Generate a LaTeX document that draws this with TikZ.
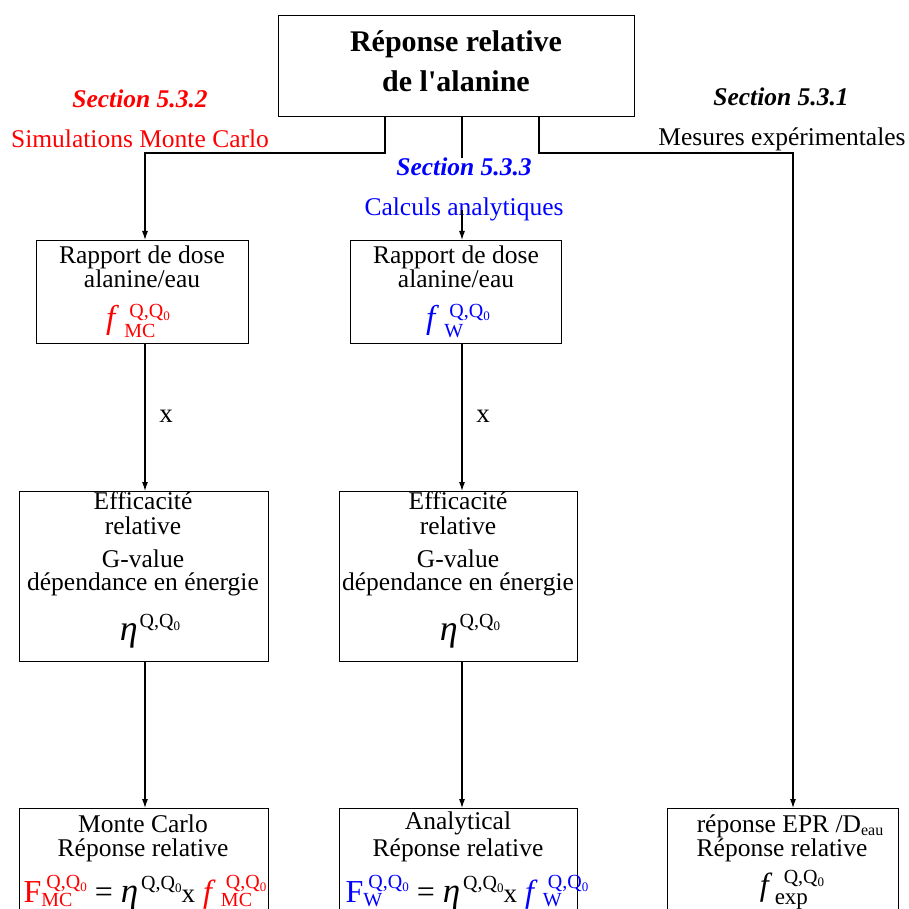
\documentclass[tikz,border=0pt]{standalone}
\usepackage{fontspec}
\setmainfont{Liberation Serif}
\usetikzlibrary{arrows.meta}
\definecolor{myred}{RGB}{255,0,0}
\definecolor{myblue}{RGB}{0,0,255}
\newcommand\Qz{Q,Q\raisebox{-3pt}{\fontsize{13}{13}\selectfont 0}}
% #1 raise, #2 lower, #3 sub kern, #4 sup kern, #5 sup, #6 sub
\newcommand\spsb[6]{%
\setbox0\hbox{\kern#4\raisebox{#1}{\upshape\fontsize{20}{20}\selectfont #5}}%
\setbox2\hbox{\kern#3\raisebox{-#2}{\upshape\fontsize{20}{20}\selectfont #6}}%
\ifdim\wd0>\wd2 \rlap{\box2}\box0\else\rlap{\box0}\box2\fi}
\begin{document}
\begin{tikzpicture}[x=1pt,y=-1pt,
  box/.style={draw, line width=1.4pt, anchor=north west, inner sep=0pt},
  base/.style={anchor=base, inner sep=0pt, font=\fontsize{25.5}{24}\selectfont},
  ttl/.style={anchor=base, inner sep=0pt, font=\bfseries\fontsize{30}{30}\selectfont},
  sec/.style={anchor=base, inner sep=0pt, font=\bfseries\itshape\fontsize{25.5}{25.5}\selectfont},
  conn/.style={line width=1.1pt},
  arr/.style={line width=1.1pt, -{Latex[length=9pt,width=6pt]}}]
\clip (0,0) rectangle (908,909);
% boxes
\node[box, minimum width=356pt, minimum height=101pt] (top) at (278,15) {};
\node[box, minimum width=212pt, minimum height=103pt] (l1) at (36,240) {};
\node[box, minimum width=211pt, minimum height=103pt] (m1) at (350,240) {};
\node[box, minimum width=249pt, minimum height=170pt] (l2) at (19,491) {};
\node[box, minimum width=238pt, minimum height=170pt] (m2) at (339,491) {};
\node[box, minimum width=249pt, minimum height=130pt] (l3) at (19,808) {};
\node[box, minimum width=238pt, minimum height=130pt] (m3) at (339,808) {};
\node[box, minimum width=231pt, minimum height=130pt] (r3) at (667,808) {};
% title
\node[ttl] (t1) at (456,52) {Réponse relative};
\node[ttl] (t2) at (456,92) {de l\textquotesingle alanine};
% section labels
\node[sec, text=myred] (s2) at (140,108) {Section 5.3.2};
\node[base, text=myred] (c2) at (140,148) {Simulations Monte Carlo};
\node[sec, text=myblue] (s3) at (464,176) {Section 5.3.3};
\node[base, text=myblue] (c3) at (464,216) {Calculs analytiques};
\node[sec] (s1) at (781,106) {Section 5.3.1};
\node[base] (c1) at (782,146) {Mesures expérimentales};
% connectors
\coordinate (xa) at (385,153);
\coordinate (xb) at (539,153);
\coordinate (xl) at (145,0);
\coordinate (xm) at (462,0);
\coordinate (xr) at (793,0);
\draw[arr] (top.south -| xa) -- (xa) -| (l1.north -| xl);
\draw[conn] (top.south -| xm) -- (s3.north -| xm);
\draw[arr] (c3.center -| xm) -- (m1.north -| xm);
\draw[arr] (top.south -| xb) -- (xb) -| (r3.north -| xr);
\draw[arr] (l1.south -| xl) -- (l2.north -| xl);
\draw[arr] (m1.south -| xm) -- (m2.north -| xm);
\draw[arr] (l2.south -| xl) -- (l3.north -| xl);
\draw[arr] (m2.south -| xm) -- (m3.north -| xm);
\node[base, font=\fontsize{27}{27}\selectfont] (xl1) at (166,422) {x};
\node[base, font=\fontsize{27}{27}\selectfont] (xm1) at (483,422) {x};
% box 1 contents
\node[base] (l1a) at (142,263) {Rapport de dose};
\node[base] (l1b) at (142,287) {alanine/eau};
\node[base] (l1f) at (138,328) {\fontsize{33}{33}\selectfont\color{myred}\itshape f\spsb{11pt}{9pt}{9pt}{14pt}{\Qz}{MC}};
\node[base] (m1a) at (456,263) {Rapport de dose};
\node[base] (m1b) at (456,287) {alanine/eau};
\node[base] (m1f) at (458,328) {\fontsize{33}{33}\selectfont\color{myblue}\itshape f\spsb{11pt}{9pt}{9pt}{14pt}{\Qz}{W}};
% box 2 contents
\node[base] (l2a) at (143,509) {Efficacité};
\node[base] (l2b) at (143,534) {relative};
\node[base] (l2c) at (143,567) {G-value};
\node[base] (l2d) at (143,590) {dépendance en énergie};
\node[base] (l2f) at (150,640) {\fontsize{36}{36}\selectfont\itshape η\spsb{13pt}{0pt}{0pt}{2pt}{\Qz}{}};
\node[base] (m2a) at (458,509) {Efficacité};
\node[base] (m2b) at (458,534) {relative};
\node[base] (m2c) at (458,567) {G-value};
\node[base] (m2d) at (458,590) {dépendance en énergie};
\node[base] (m2f) at (470,640) {\fontsize{36}{36}\selectfont\itshape η\spsb{13pt}{0pt}{0pt}{2pt}{\Qz}{}};
% box 3 contents
\node[base] (l3a) at (143,832) {Monte Carlo};
\node[base] (l3b) at (143,856) {Réponse relative};
\node[base] (l3f) at (145,902) {\fontsize{32}{32}\selectfont
 {\color{myred}F\spsb{14pt}{4pt}{0pt}{5pt}{\Qz}{MC}} = {\fontsize{35}{35}\selectfont\itshape η}\spsb{13pt}{0pt}{0pt}{3pt}{\Qz}{}{\fontsize{27}{27}\selectfont x} {\color{myred}\itshape f\spsb{14pt}{4pt}{9pt}{14pt}{\Qz}{MC}}};
\node[base] (m3a) at (458,829) {Analytical};
\node[base] (m3b) at (458,856) {Réponse relative};
\node[base] (m3f) at (467,902) {\fontsize{32}{32}\selectfont
 {\color{myblue}F\spsb{14pt}{4pt}{0pt}{5pt}{\Qz}{W}} = {\fontsize{35}{35}\selectfont\itshape η}\spsb{13pt}{0pt}{0pt}{3pt}{\Qz}{}{\fontsize{27}{27}\selectfont x} {\color{myblue}\itshape f\spsb{14pt}{4pt}{9pt}{14pt}{\Qz}{W}}};
\node[base] (r3a) at (790,832) {réponse EPR /D\raisebox{-3pt}{\fontsize{16}{16}\selectfont eau}};
\node[base] (r3b) at (782,856) {Réponse relative};
\node[base] (r3f) at (792,895) {\fontsize{32}{32}\selectfont\itshape f\spsb{12pt}{9pt}{6pt}{15pt}{\Qz}{\fontsize{23}{23}\selectfont exp}};
\end{tikzpicture}
\end{document}
